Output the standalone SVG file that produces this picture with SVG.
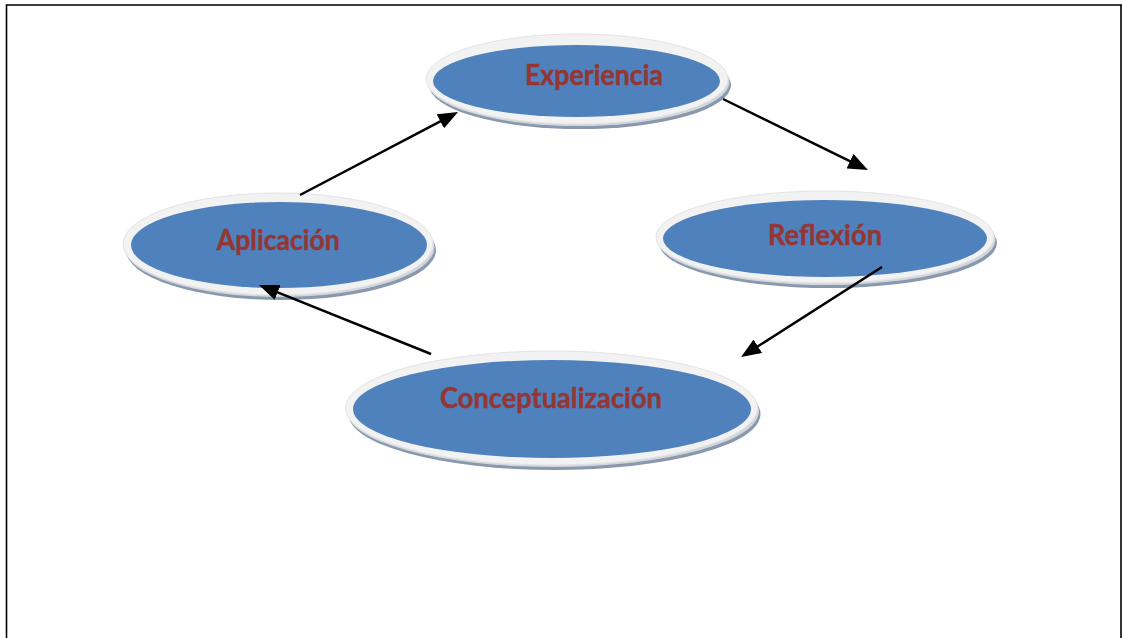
<svg xmlns="http://www.w3.org/2000/svg" width="1122" height="638" viewBox="0 0 1122 638">
<style>
.sh1{fill:#8A98AD}
.sh2{fill:#D0D6DE}
.ring{fill:#F2F2F2;stroke:#E4E4E4;stroke-width:1}
.blue{fill:#4F81BD}
.lbl{font-family:"Lato","Open Sans",sans-serif;font-weight:bold;font-size:28px;fill:#943634;text-anchor:middle;stroke:#943634;stroke-width:0.4}
.conn{stroke:#000;stroke-width:2.5;fill:none;marker-end:url(#ah)}
.frame{stroke:#000;stroke-width:1.6;fill:none}
</style>
<defs>
<marker id="ah" markerUnits="userSpaceOnUse" markerWidth="20" markerHeight="16" refX="14" refY="8" orient="auto">
<path d="M0,0 L20,8 L0,16 z" fill="#000"/>
</marker>
</defs>
<rect width="1122" height="638" fill="#fff"/>
<g id="frame">
<path class="frame" d="M6.5,638 V5 H1122"/>
<path class="frame" d="M1121,5 V638"/>
</g>
<g id="node-experiencia">
<ellipse class="sh1" cx="580" cy="85" rx="151" ry="44"/>
<ellipse class="sh2" cx="578.5" cy="82" rx="151" ry="44"/>
<ellipse class="ring" cx="577" cy="79" rx="151" ry="45"/>
<ellipse class="blue" cx="576.5" cy="81" rx="143.5" ry="36"/>
<text class="lbl" x="594" y="85" textLength="138" lengthAdjust="spacingAndGlyphs">Experiencia</text>
</g>
<g id="node-aplicacion">
<ellipse class="sh1" cx="281" cy="250" rx="155" ry="50"/>
<ellipse class="sh2" cx="279.5" cy="247" rx="155" ry="50"/>
<ellipse class="ring" cx="278" cy="244" rx="155" ry="51"/>
<ellipse class="blue" cx="279" cy="245" rx="148" ry="43"/>
<text class="lbl" x="278.3" y="250" textLength="123" lengthAdjust="spacingAndGlyphs">Aplicación</text>
</g>
<g id="node-reflexion">
<ellipse class="sh1" cx="828" cy="243" rx="169" ry="45"/>
<ellipse class="sh2" cx="826.5" cy="240" rx="169" ry="45"/>
<ellipse class="ring" cx="825" cy="237" rx="169" ry="46"/>
<ellipse class="blue" cx="825" cy="238.5" rx="162" ry="38.5"/>
<text class="lbl" x="825" y="245" textLength="114" lengthAdjust="spacingAndGlyphs">Reflexión</text>
</g>
<g id="node-conceptualizacion">
<ellipse class="sh1" cx="554.5" cy="414" rx="206" ry="56"/>
<ellipse class="sh2" cx="553" cy="411" rx="206" ry="56"/>
<ellipse class="ring" cx="551.5" cy="408" rx="206" ry="57"/>
<ellipse class="blue" cx="552" cy="409" rx="199" ry="49"/>
<text class="lbl" x="551" y="408" textLength="222" lengthAdjust="spacingAndGlyphs">Conceptualización</text>
</g>
<g id="connectors">
<line class="conn" x1="300" y1="195" x2="452.7" y2="114.8"/>
<line class="conn" x1="723" y1="99" x2="862.6" y2="167.4"/>
<line class="conn" x1="882" y1="267" x2="746.1" y2="353.8"/>
<line class="conn" x1="431" y1="354" x2="264.6" y2="287.2"/>
</g>
</svg>
